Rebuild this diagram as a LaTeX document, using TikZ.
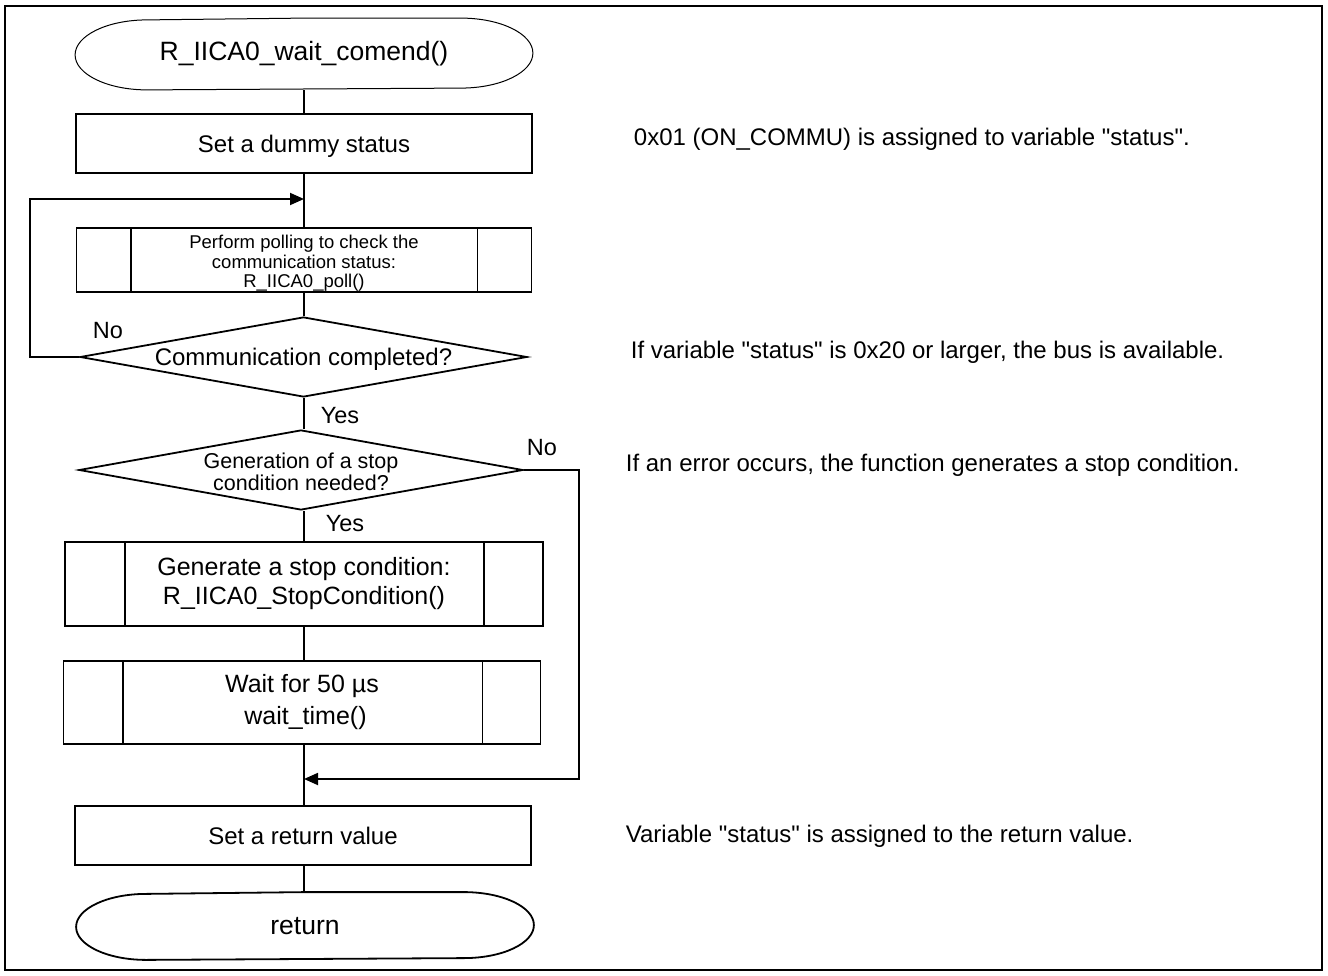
\documentclass[tikz,border=0pt]{standalone}
\usepackage{fontspec}
\setmainfont{Liberation Sans}
\usetikzlibrary{arrows.meta,shapes.geometric}
\newcommand{\fs}[1]{\fontsize{#1}{#1}\selectfont}
\newcommand{\qd}{\textquotedbl}
\newcommand{\down}[2]{\raisebox{-#1}[\height][\depth]{#2}}
\begin{document}
\begin{tikzpicture}[x=1pt,y=-1pt,line width=1.8pt,
  base/.style={inner sep=0pt,align=center},
  termnode/.style={base,draw=none,minimum width=456pt,minimum height=70pt,font=\fs{26.5}},
  procbox/.style={base,draw,rectangle,minimum width=456pt,minimum height=59pt,font=\fs{24}},
  predef/.style={base,draw,rectangle},
  decision/.style={base,draw,diamond,aspect=5.5},
  lbl/.style={inner sep=0pt,anchor=base,font=\fs{23.5}},
  note/.style={inner sep=0pt,anchor=base west,font=\fs{24}},
  flow/.style={-{Triangle[length=14pt,width=12pt]}}
]
\useasboundingbox (0,0) rectangle (1328,976);
\draw (4.8,5.8) rectangle (1322,970);

% start terminal
\node[termnode] (start) at (304,54) {R\_IICA0\_wait\_comend()};
\draw[line width=1pt] (start.north) -- ([xshift=-72pt]start.north east)
  arc[start angle=90,end angle=-90,x radius=72pt,y radius=35pt]
  -- ([xshift=72pt]start.south west)
  arc[start angle=270,end angle=90,x radius=72pt,y radius=35pt] -- cycle;

\node[procbox] (dummy) at (304,143.5) {\down{3pt}{Set a dummy status}};

\node[predef,minimum width=455pt,minimum height=64pt,font=\fs{18.5}] (poll) at (304,260)
  {\down{4.5pt}{\begin{tabular}{@{}c@{}}Perform polling to check the\\[0.5pt]communication status:\\[0.5pt]R\_IICA0\_poll()\end{tabular}}};
\draw ([xshift=55pt]poll.north west) -- ([xshift=55pt]poll.south west);
\draw ([xshift=-55pt]poll.north east) -- ([xshift=-55pt]poll.south east);

\node[decision,minimum width=447pt,minimum height=80pt,font=\fs{24}] (comp) at (303.5,357)
  {\down{2pt}{Communication completed?}};

\node[decision,minimum width=444pt,minimum height=80pt,font=\fs{21.5}] (need) at (301,470)
  {\down{5pt}{\begin{tabular}{@{}c@{}}Generation of a stop\\[0.5pt]condition needed?\end{tabular}}};

\node[predef,minimum width=478pt,minimum height=84pt,font=\fs{25}] (gen) at (304,584)
  {Generate a stop condition:\\[4pt]R\_IICA0\_StopCondition()};
\draw ([xshift=61pt]gen.north west) -- ([xshift=61pt]gen.south west);
\draw ([xshift=-60pt]gen.north east) -- ([xshift=-60pt]gen.south east);

\node[predef,minimum width=477pt,minimum height=83pt,font=\fs{25}] (wait) at (302,702.5)
  {Wait for 50 µs\\[7pt]\ wait\_time()};
\draw ([xshift=60pt]wait.north west) -- ([xshift=60pt]wait.south west);
\draw ([xshift=-59pt]wait.north east) -- ([xshift=-59pt]wait.south east);

\node[procbox] (retv) at (303,835.5) {Set a return value};

% end terminal
\node[termnode,minimum height=66pt] (ret) at (305,926) {return};
\draw (ret.north) -- ([xshift=-70pt]ret.north east)
  arc[start angle=90,end angle=-90,x radius=70pt,y radius=33pt]
  -- ([xshift=70pt]ret.south west)
  arc[start angle=270,end angle=90,x radius=70pt,y radius=33pt] -- cycle;

% connectors
\coordinate (j1) at (304,199);
\coordinate (lc) at (30,199);
\coordinate (j2) at (304,779);
\coordinate (rc) at (579,779);

\draw (start.south -| dummy.north) -- (dummy.north);
\draw (dummy.south) -- (poll.north);
\draw (poll.south) -- (poll.south |- comp.north);
\draw (poll.south |- comp.south) -- (poll.south |- need.north);
\draw (poll.south |- need.south) -- (gen.north);
\draw (gen.south) -- (gen.south |- wait.north);
\draw (wait.south -| gen.south) -- (gen.south |- retv.north);
\draw (retv.south -| gen.south) -- (gen.south |- ret.north);

\draw[flow] (comp.west) -| (lc) -- (j1);
\draw[flow] (need.east) -| (rc) -- (j2);

% labels
\node[lbl] (no1) at (108,338) {No};
\node[lbl] (yes1) at (340,423) {Yes};
\node[lbl] (no2) at (542,455.5) {No};
\node[lbl] (yes2) at (345,531) {Yes};

% notes
\node[note] (n1) at (633,146) {0x01 (ON\_COMMU) is assigned to variable \qd status\qd .};
\node[note] (n2) at (630,359) {If variable \qd status\qd\ is 0x20 or larger, the bus is available.};
\node[note] (n3) at (625,471) {If an error occurs, the function generates a stop condition.};
\node[note] (n4) at (625,842.5) {Variable \qd status\qd\ is assigned to the return value.};
\end{tikzpicture}
\end{document}
